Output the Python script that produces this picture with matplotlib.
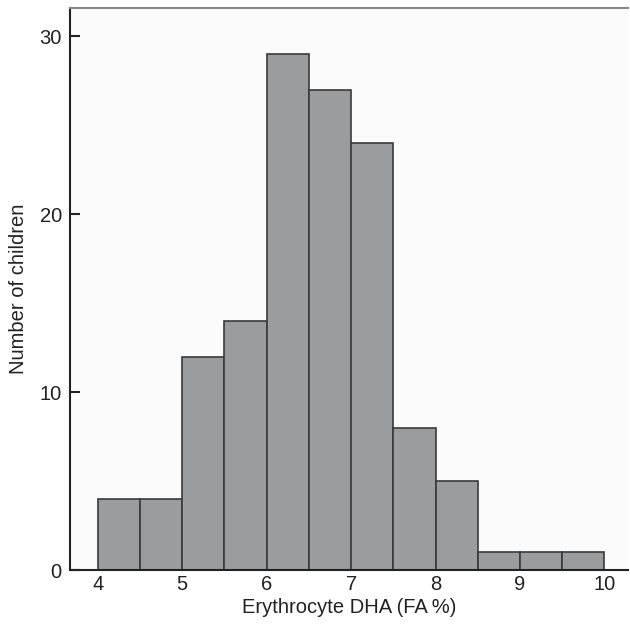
import matplotlib
matplotlib.use("Agg")
import matplotlib.pyplot as plt

# histogram bins (FA %) and counts
bin_edges = [4.0, 4.5, 5.0, 5.5, 6.0, 6.5, 7.0, 7.5, 8.0, 8.5, 9.0, 9.5, 10.0]
counts = [4, 4, 12, 14, 29, 27, 24, 8, 5, 1, 1, 1]
x_ticks = [4, 5, 6, 7, 8, 9, 10]
y_ticks = [0, 10, 20, 30]

plt.rcParams["font.family"] = ["Liberation Sans", "DejaVu Sans"]

fig = plt.figure(figsize=(6.3, 6.3), dpi=100)
fig.patch.set_facecolor("white")
ax = fig.add_axes([0.111, 0.095, 0.886, 0.892])
ax.set_facecolor("#fbfbfb")

widths = [b - a for a, b in zip(bin_edges[:-1], bin_edges[1:])]
ax.bar(bin_edges[:-1], counts, width=widths, align="edge",
       color="#9b9c9e", edgecolor="#3a3a3a", linewidth=1.2)

ax.set_xlim(3.67, 10.28)
ax.set_ylim(0, 31.57)
ax.set_xticks(x_ticks)
ax.set_yticks(y_ticks)
ax.tick_params(axis="x", length=0, labelsize=14.5, pad=3.5, colors="#222222")
ax.tick_params(axis="y", direction="in", length=7, width=1.5,
               labelsize=14.5, pad=5.8, colors="#222222")

ax.spines["right"].set_visible(False)
ax.spines["top"].set_color("#888888")
ax.spines["top"].set_linewidth(1.5)
ax.spines["left"].set_linewidth(1.5)
ax.spines["bottom"].set_linewidth(1.5)
ax.spines["left"].set_color("#222222")
ax.spines["bottom"].set_color("#222222")

ax.set_xlabel("Erythrocyte DHA (FA\u2009%)", fontsize=14.5, labelpad=3, color="#222222")
ax.set_ylabel("Number of children", fontsize=14.5, labelpad=8.5, color="#222222")

fig.savefig("out.png", dpi=100)
